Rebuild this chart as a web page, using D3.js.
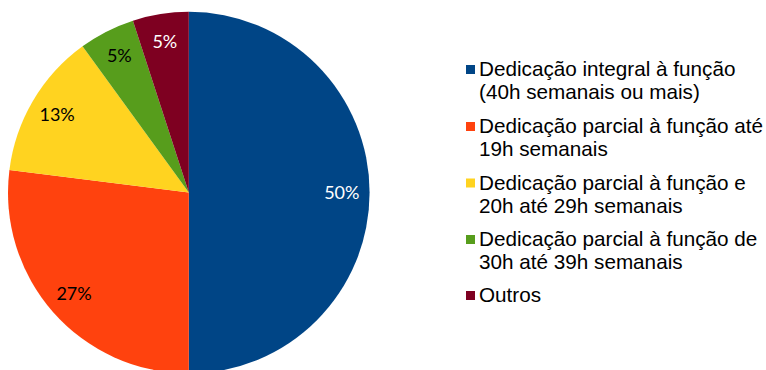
<!DOCTYPE html>
<html>
<head>
<meta charset="utf-8">
<script src="https://cdn.jsdelivr.net/npm/d3@7"></script>
<style>
  html, body { margin: 0; padding: 0; background: #fff; }
  svg { display: block; }
</style>
</head>
<body>
<svg id="chart" width="766" height="370"></svg>
<script>
// Distribuição da dedicação à função
const categories = [
  ["Dedicação integral à função", "(40h semanais ou mais)"],
  ["Dedicação parcial à função até", "19h semanais"],
  ["Dedicação parcial à função e", "20h até 29h semanais"],
  ["Dedicação parcial à função de", "30h até 39h semanais"],
  ["Outros"]
];
const values = [50, 27, 13, 5, 5];
const colors = ["#004586", "#ff420e", "#ffd320", "#579d1c", "#7e0021"];
const labelColors = ["#ffffff", "#000000", "#000000", "#000000", "#ffffff"];

const svg = d3.select("#chart");
const cx = 188.8, cy = 192.6, r = 180.8;

const pie = d3.pie().sort(null).value(d => d);
const arcs = pie(values);
const arc = d3.arc().innerRadius(0).outerRadius(r);
const labelArc = d3.arc().innerRadius(153).outerRadius(153);
const total = d3.sum(values);

const g = svg.append("g").attr("transform", `translate(${cx},${cy})`);

g.selectAll("path.slice")
  .data(arcs)
  .join("path")
  .attr("class", "slice")
  .attr("d", arc)
  .attr("fill", (d, i) => colors[i]);

g.selectAll("text.pct")
  .data(arcs)
  .join("text")
  .attr("class", "pct")
  .attr("transform", d => `translate(${labelArc.centroid(d)})`)
  .attr("text-anchor", "middle")
  .attr("dy", 6.2)
  .attr("font-family", "Lato, 'Open Sans', sans-serif")
  .attr("font-size", 18)
  .attr("fill", (d, i) => labelColors[i])
  .text(d => Math.round(d.value / total * 100) + "%");

// Legenda
const legend = svg.append("g");
const baselines = [76, 133, 189.5, 246, 302];
const lineH = 23;

categories.forEach((lines, i) => {
  const item = legend.append("g");
  item.append("rect")
    .attr("x", 466).attr("y", baselines[i] - 11)
    .attr("width", 9).attr("height", 9)
    .attr("fill", colors[i]);
  const t = item.append("text")
    .attr("font-family", "'Liberation Sans', Arial, sans-serif")
    .attr("font-size", 20.7)
    .attr("fill", "#000");
  lines.forEach((ln, j) => {
    t.append("tspan").attr("x", 479).attr("y", baselines[i] + j * lineH).text(ln);
  });
});
</script>
</body>
</html>
